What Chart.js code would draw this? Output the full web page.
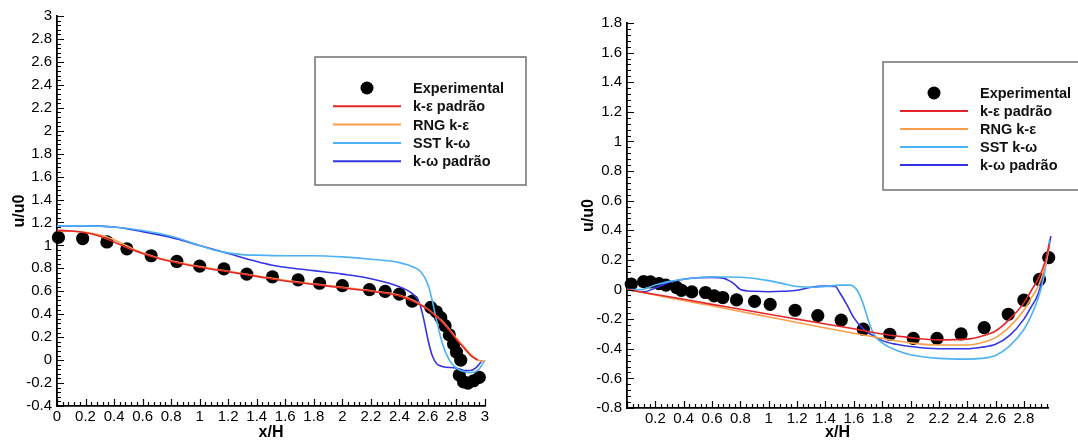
<!DOCTYPE html>
<html>
<head>
<meta charset="utf-8">
<script src="https://cdn.jsdelivr.net/npm/chart.js@4.4.1/dist/chart.umd.min.js"></script>
<style>
  html, body { margin: 0; padding: 0; background: #fff; }
  #wrap { position: relative; width: 1078px; height: 442px; overflow: hidden; }
  #c1 { position: absolute; left: 0; top: 0; }
  #c2 { position: absolute; left: 540px; top: 0; }
</style>
</head>
<body>
<div id="wrap">
  <canvas id="c1" width="540" height="442"></canvas>
  <canvas id="c2" width="538" height="442"></canvas>
</div>
<script>
// ---- series names ----
const seriesNames = ['Experimental', 'k-\u03b5 padr\u00e3o', 'RNG k-\u03b5', 'SST k-\u03c9', 'k-\u03c9 padr\u00e3o'];

// ---- tick labels ----
const leftTicksX  = [0, 0.2, 0.4, 0.6, 0.8, 1, 1.2, 1.4, 1.6, 1.8, 2, 2.2, 2.4, 2.6, 2.8, 3];
const leftTicksY  = [-0.4, -0.2, 0, 0.2, 0.4, 0.6, 0.8, 1, 1.2, 1.4, 1.6, 1.8, 2, 2.2, 2.4, 2.6, 2.8, 3];
const rightTicksX = [0.2, 0.4, 0.6, 0.8, 1, 1.2, 1.4, 1.6, 1.8, 2, 2.2, 2.4, 2.6, 2.8];
const rightTicksY = [-0.8, -0.6, -0.4, -0.2, 0, 0.2, 0.4, 0.6, 0.8, 1, 1.2, 1.4, 1.6, 1.8];

// ---- left panel: experimental ----
const leftExpX = [0.01, 0.18, 0.35, 0.49, 0.66, 0.84, 1.00, 1.17, 1.33, 1.51, 1.69, 1.84, 2.00, 2.19, 2.30, 2.40, 2.49, 2.62, 2.66, 2.69, 2.72, 2.75, 2.78, 2.80, 2.83, 2.82, 2.85, 2.88, 2.92, 2.96];
const leftExpY = [1.07, 1.06, 1.03, 0.97, 0.91, 0.86, 0.82, 0.795, 0.75, 0.725, 0.70, 0.67, 0.65, 0.615, 0.60, 0.575, 0.515, 0.46, 0.42, 0.37, 0.30, 0.22, 0.14, 0.07, 0.00, -0.13, -0.19, -0.20, -0.18, -0.15];

// ---- left panel: k-epsilon standard ----
const leftKeX = [0, 0.1, 0.2, 0.3, 0.4, 0.5, 0.6, 0.7, 0.8, 1.0, 1.2, 1.4, 1.6, 1.8, 2.0, 2.2, 2.4, 2.5, 2.55, 2.6, 2.65, 2.7, 2.75, 2.8, 2.85, 2.9, 2.95];
const leftKeY = [1.13, 1.125, 1.11, 1.08, 1.03, 0.975, 0.93, 0.89, 0.86, 0.81, 0.77, 0.73, 0.69, 0.66, 0.63, 0.60, 0.56, 0.51, 0.48, 0.44, 0.39, 0.33, 0.26, 0.18, 0.11, 0.04, 0.0];

// ---- left panel: RNG k-epsilon ----
const leftRngX = [0, 0.1, 0.2, 0.3, 0.4, 0.5, 0.6, 0.7, 0.8, 1.0, 1.2, 1.4, 1.6, 1.8, 2.0, 2.2, 2.4, 2.5, 2.55, 2.6, 2.65, 2.7, 2.75, 2.8, 2.85, 2.9, 2.95, 3.0];
const leftRngY = [1.13, 1.125, 1.115, 1.09, 1.05, 0.99, 0.935, 0.895, 0.865, 0.815, 0.775, 0.735, 0.695, 0.665, 0.635, 0.605, 0.565, 0.52, 0.485, 0.445, 0.395, 0.34, 0.27, 0.19, 0.12, 0.05, 0.0, -0.01];

// ---- left panel: SST k-omega ----
const leftSstX = [0, 0.2, 0.4, 0.6, 0.8, 1.0, 1.1, 1.2, 1.3, 1.4, 1.6, 1.8, 2.0, 2.2, 2.4, 2.5, 2.55, 2.6, 2.63, 2.66, 2.7, 2.75, 2.8, 2.85, 2.9, 2.95, 3.0];
const leftSstY = [1.17, 1.17, 1.16, 1.13, 1.08, 1.00, 0.96, 0.935, 0.92, 0.915, 0.91, 0.91, 0.90, 0.88, 0.85, 0.81, 0.77, 0.66, 0.52, 0.35, 0.15, 0.0, -0.07, -0.10, -0.11, -0.09, 0.0];

// ---- left panel: k-omega standard ----
const leftKwX = [0, 0.2, 0.4, 0.6, 0.8, 1.0, 1.2, 1.4, 1.5, 1.6, 1.8, 2.0, 2.2, 2.4, 2.5, 2.54, 2.57, 2.6, 2.63, 2.66, 2.7, 2.8, 2.85, 2.9, 2.95, 2.98];
const leftKwY = [1.17, 1.17, 1.16, 1.12, 1.07, 1.0, 0.93, 0.86, 0.83, 0.81, 0.78, 0.75, 0.71, 0.64, 0.57, 0.50, 0.36, 0.18, 0.04, -0.03, -0.055, -0.07, -0.09, -0.09, -0.05, 0.0];

// ---- right panel: experimental ----
const rightExpX = [0.03, 0.117, 0.165, 0.226, 0.275, 0.35, 0.384, 0.457, 0.554, 0.615, 0.676, 0.773, 0.90, 1.01, 1.186, 1.346, 1.511, 1.667, 1.854, 2.02, 2.187, 2.357, 2.52, 2.69, 2.80, 2.91, 2.975];
const rightExpY = [0.036, 0.054, 0.052, 0.04, 0.03, 0.014, -0.005, -0.016, -0.02, -0.043, -0.054, -0.07, -0.08, -0.10, -0.14, -0.176, -0.207, -0.268, -0.302, -0.33, -0.33, -0.30, -0.257, -0.167, -0.072, 0.068, 0.216];

// ---- right panel: k-epsilon standard ----
const rightKeX = [0, 0.2, 0.4, 0.6, 0.8, 1.0, 1.2, 1.4, 1.6, 1.8, 2.0, 2.2, 2.4, 2.5, 2.6, 2.7, 2.8, 2.85, 2.9, 2.95, 2.98];
const rightKeY = [0.0, -0.033, -0.066, -0.10, -0.133, -0.167, -0.20, -0.233, -0.265, -0.30, -0.325, -0.34, -0.335, -0.315, -0.28, -0.20, -0.09, -0.01, 0.07, 0.19, 0.31];

// ---- right panel: RNG k-epsilon ----
const rightRngX = [0, 0.2, 0.4, 0.6, 0.8, 1.0, 1.2, 1.4, 1.6, 1.8, 2.0, 2.2, 2.4, 2.5, 2.6, 2.7, 2.8, 2.85, 2.9, 2.95, 2.98];
const rightRngY = [0.0, -0.037, -0.074, -0.11, -0.148, -0.185, -0.222, -0.26, -0.295, -0.33, -0.36, -0.375, -0.375, -0.36, -0.325, -0.25, -0.14, -0.06, 0.02, 0.16, 0.29];

// ---- right panel: SST k-omega ----
const rightSstX = [0, 0.1, 0.2, 0.3, 0.4, 0.5, 0.6, 0.7, 0.8, 0.9, 1.0, 1.1, 1.2, 1.3, 1.4, 1.5, 1.57, 1.62, 1.66, 1.7, 1.74, 1.8, 1.9, 2.0, 2.2, 2.4, 2.5, 2.6, 2.7, 2.8, 2.85, 2.9, 2.94, 2.98];
const rightSstY = [0.0, 0.0, 0.03, 0.055, 0.07, 0.08, 0.085, 0.085, 0.083, 0.075, 0.06, 0.04, 0.02, 0.015, 0.02, 0.03, 0.03, 0.0, -0.08, -0.2, -0.3, -0.36, -0.41, -0.44, -0.465, -0.47, -0.465, -0.445, -0.38, -0.27, -0.18, -0.06, 0.08, 0.33];

// ---- right panel: k-omega standard ----
const rightKwX = [0, 0.05, 0.12, 0.2, 0.3, 0.4, 0.5, 0.6, 0.68, 0.72, 0.76, 0.8, 0.9, 1.0, 1.1, 1.2, 1.3, 1.4, 1.47, 1.5, 1.55, 1.6, 1.65, 1.7, 1.8, 1.9, 2.0, 2.2, 2.4, 2.5, 2.6, 2.7, 2.8, 2.85, 2.9, 2.95, 2.99];
const rightKwY = [0.0, -0.01, -0.015, 0.01, 0.05, 0.07, 0.08, 0.082, 0.077, 0.06, 0.035, 0.0, -0.012, -0.015, -0.012, -0.005, 0.015, 0.023, 0.02, -0.02, -0.1, -0.19, -0.25, -0.29, -0.345, -0.37, -0.385, -0.40, -0.40, -0.39, -0.37, -0.31, -0.20, -0.12, -0.03, 0.15, 0.36];

const colors = { exp: '#000000', ke: '#e3262b', rng: '#fb9d4b', sst: '#4cb2f5', kw: '#3434e6' };

const pts = (xs, ys) => xs.map((x, i) => ({ x: x, y: ys[i] }));

function datasets(exp, ke, rng, sst, kw) {
  const line = (label, data, color) => ({
    label, data, borderColor: color, backgroundColor: color, borderWidth: 1.6,
    pointRadius: 0, showLine: true, cubicInterpolationMode: 'monotone', clip: false, order: 0
  });
  return [
    { label: seriesNames[0], data: exp, showLine: false, pointRadius: 6.6, pointHoverRadius: 6.6,
      backgroundColor: colors.exp, borderColor: colors.exp, borderWidth: 0, clip: false, order: 5 },
    line(seriesNames[1], ke, colors.ke),
    line(seriesNames[2], rng, colors.rng),
    line(seriesNames[3], sst, colors.sst),
    line(seriesNames[4], kw, colors.kw)
  ];
}

// inward-pointing major and minor ticks along the left and bottom axes
const innerTicks = {
  id: 'innerTicks',
  afterDatasetsDraw(chart) {
    const { ctx, scales: { x, y }, chartArea } = chart;
    const step = 0.2, sub = step / 5;
    ctx.save();
    ctx.strokeStyle = '#000';
    ctx.lineWidth = 1.2;
    ctx.beginPath();
    for (let k = Math.ceil(x.min / sub - 1e-6); k <= Math.floor(x.max / sub + 1e-6); k++) {
      const px = Math.round(x.getPixelForValue(k * sub)) + 0.5;
      const len = (k % 5 === 0) ? 7 : 4;
      ctx.moveTo(px, chartArea.bottom);
      ctx.lineTo(px, chartArea.bottom - len);
    }
    for (let k = Math.ceil(y.min / sub - 1e-6); k <= Math.floor(y.max / sub + 1e-6); k++) {
      const py = Math.round(y.getPixelForValue(k * sub)) + 0.5;
      const len = (k % 5 === 0) ? 7 : 4;
      ctx.moveTo(chartArea.left, py);
      ctx.lineTo(chartArea.left + len, py);
    }
    ctx.stroke();
    ctx.restore();
  }
};

// boxed legend drawn inside the plot
const boxLegend = {
  id: 'boxLegend',
  afterDraw(chart, args, o) {
    const ctx = chart.ctx;
    ctx.save();
    ctx.fillStyle = '#fff';
    ctx.fillRect(o.x, o.y, o.w, o.h);
    ctx.strokeStyle = '#707070';
    ctx.lineWidth = 1.5;
    ctx.strokeRect(o.x, o.y, o.w, o.h);
    ctx.font = 'bold 14.5px "Liberation Sans", Arial, sans-serif';
    ctx.textBaseline = 'middle';
    ctx.textAlign = 'left';
    chart.data.datasets.forEach((ds, i) => {
      const cy = o.row0 + i * o.gap;
      if (ds.showLine === false) {
        ctx.fillStyle = ds.backgroundColor;
        ctx.beginPath();
        ctx.arc((o.l0 + o.l1) / 2, cy, 6.5, 0, Math.PI * 2);
        ctx.fill();
      } else {
        ctx.strokeStyle = ds.borderColor;
        ctx.lineWidth = 2;
        ctx.beginPath();
        ctx.moveTo(o.l0, cy);
        ctx.lineTo(o.l1, cy);
        ctx.stroke();
      }
      ctx.fillStyle = '#111';
      ctx.fillText(ds.label, o.tx, cy + 1);
    });
    ctx.restore();
  }
};

const fmt = v => String(Math.round(v * 10) / 10);
const tickFont = { family: '"Liberation Sans", Arial, sans-serif', size: 15 };
const titleFont = { family: '"Liberation Sans", Arial, sans-serif', size: 16, weight: 'bold' };

function makeChart(canvas, ds, cfg) {
  return new Chart(canvas, {
    type: 'scatter',
    data: { datasets: ds },
    plugins: [innerTicks, boxLegend],
    options: {
      responsive: false,
      animation: false,
      events: [],
      layout: { padding: cfg.pad },
      plugins: { legend: { display: false }, tooltip: { enabled: false }, boxLegend: cfg.legend },
      scales: {
        x: {
          type: 'linear', min: cfg.xMin, max: cfg.xMax,
          afterBuildTicks: s => { s.ticks = cfg.xTicks.map(v => ({ value: v })); },
          afterFit: s => { s.height = cfg.xH; },
          ticks: { callback: fmt, color: '#000', font: tickFont, padding: 2, maxRotation: 0, autoSkip: false },
          grid: { display: true, drawOnChartArea: false, drawTicks: false },
          border: { display: true, color: '#000', width: 1.8 },
          title: { display: true, text: 'x/H', color: '#000', font: titleFont, padding: { top: 0, bottom: 0 } }
        },
        y: {
          type: 'linear', min: cfg.yMin, max: cfg.yMax,
          afterBuildTicks: s => { s.ticks = cfg.yTicks.map(v => ({ value: v })); },
          afterFit: s => { s.width = cfg.yW; },
          ticks: { callback: fmt, color: '#000', font: tickFont, padding: 5, autoSkip: false },
          grid: { display: true, drawOnChartArea: false, drawTicks: false },
          border: { display: true, color: '#000', width: 1.8 },
          title: { display: true, text: 'u/u0', color: '#000', font: titleFont, padding: { top: cfg.yTitlePad, bottom: 0 } }
        }
      }
    }
  });
}

makeChart(document.getElementById('c1'),
  datasets(pts(leftExpX, leftExpY), pts(leftKeX, leftKeY), pts(leftRngX, leftRngY), pts(leftSstX, leftSstY), pts(leftKwX, leftKwY)),
  {
    pad: { left: 0, top: 16, right: 55, bottom: 0 },
    xMin: 0, xMax: 3, yMin: -0.4, yMax: 3,
    xTicks: leftTicksX, yTicks: leftTicksY,
    xH: 36, yW: 57, yTitlePad: 10,
    legend: { x: 315, y: 57, w: 211, h: 128, row0: 88, gap: 18.3, l0: 333, l1: 401, tx: 413 }
  });

makeChart(document.getElementById('c2'),
  datasets(pts(rightExpX, rightExpY), pts(rightKeX, rightKeY), pts(rightRngX, rightRngY), pts(rightSstX, rightSstY), pts(rightKwX, rightKwY)),
  {
    pad: { left: 0, top: 23, right: 30, bottom: 0 },
    xMin: 0, xMax: 2.97, yMin: -0.8, yMax: 1.8,
    xTicks: rightTicksX, yTicks: rightTicksY,
    xH: 34, yW: 87, yTitlePad: 39,
    legend: { x: 343, y: 62, w: 220, h: 128, row0: 93, gap: 18, l0: 360, l1: 428, tx: 440 }
  });
</script>
</body>
</html>
